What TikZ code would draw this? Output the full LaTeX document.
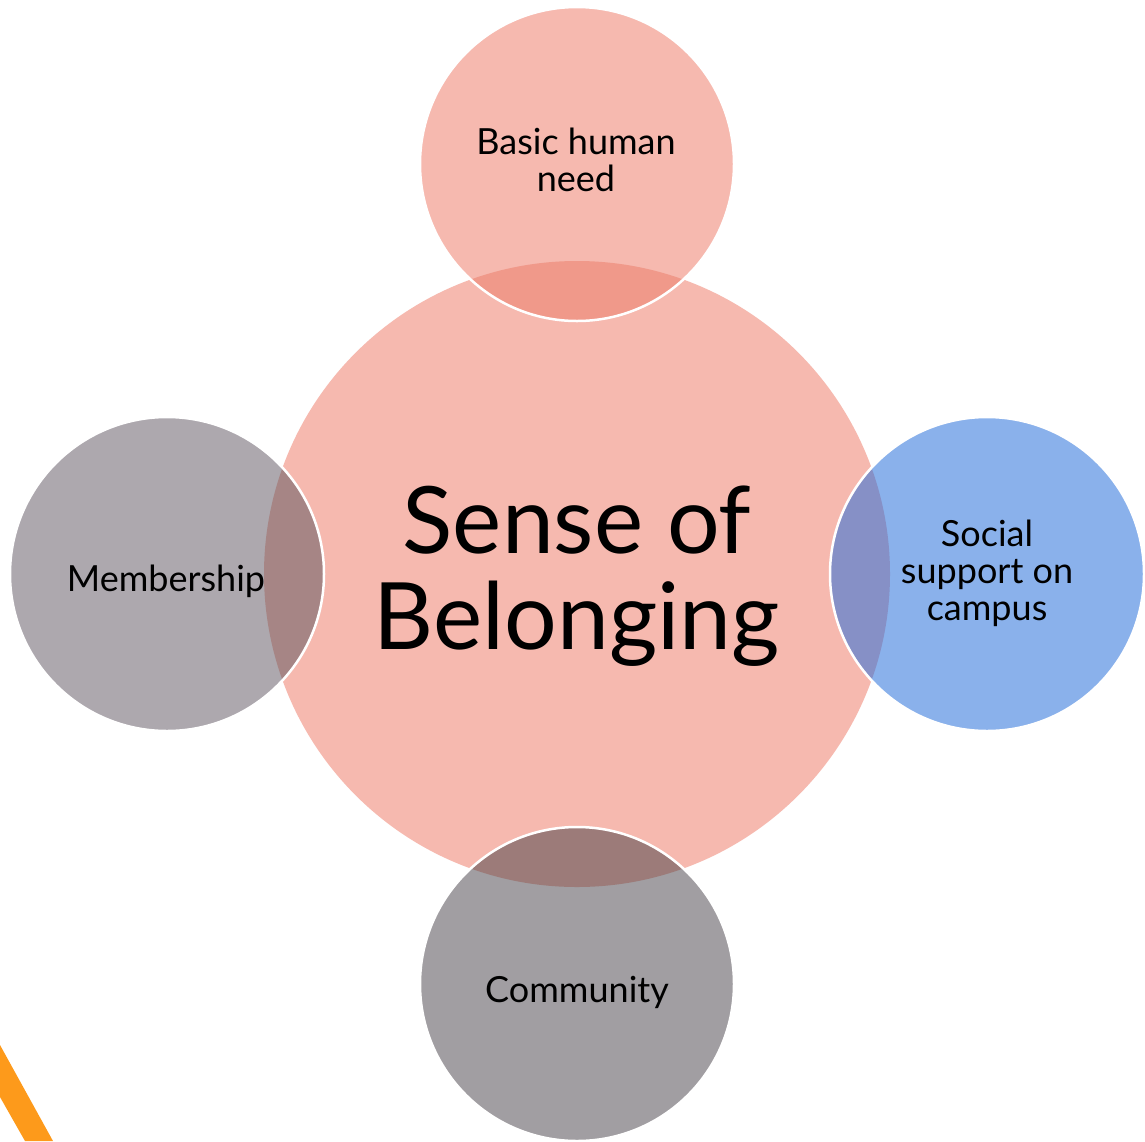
\documentclass[tikz,border=0pt]{standalone}
\usepackage{fontspec}
\setmainfont{Lato}
\definecolor{pinkC}{HTML}{F6B9AF}
\definecolor{topOv}{HTML}{F0998A}
\definecolor{leftC}{HTML}{ADA8AE}
\definecolor{leftOv}{HTML}{A68585}
\definecolor{rightC}{HTML}{8AB1EB}
\definecolor{rightOv}{HTML}{8690C6}
\definecolor{botC}{HTML}{A19EA2}
\definecolor{botOv}{HTML}{9C7B79}
\definecolor{orangeC}{HTML}{FD9A1B}
\tikzset{
  lbl/.style={inner sep=0pt, align=center, font=\fontsize{36}{37}\selectfont, text=black},
  biglbl/.style={inner sep=0pt, align=center, font=\fontsize{93}{96}\selectfont, text=black},
  rim/.style={draw=white, line width=2.5pt}
}
\begin{document}
\begin{tikzpicture}[x=1pt,y=-1pt]
\useasboundingbox (0,0) rectangle (1145,1141);
\fill[white] (0,0) rectangle (1145,1141);
% orange stripe
\fill[orangeC] (0,1045) -- (53,1141) -- (25,1141) -- (0,1097) -- cycle;
% coordinates
\coordinate (cc) at (577,574);
\coordinate (ct) at (577,164);
\coordinate (cb) at (577,984);
\coordinate (cl) at (167,574);
\coordinate (cr) at (987,574);
% central
\fill[pinkC] (cc) circle[radius=313pt];
% satellites
\fill[pinkC] (ct) circle[radius=157pt];
\fill[leftC] (cl) circle[radius=157pt];
\fill[rightC] (cr) circle[radius=157pt];
\fill[botC] (cb) circle[radius=157pt];
% overlaps
\begin{scope}
  \clip (ct) circle[radius=157pt];
  \fill[topOv] (cc) circle[radius=313pt];
\end{scope}
\begin{scope}
  \clip (cl) circle[radius=157pt];
  \fill[leftOv] (cc) circle[radius=313pt];
\end{scope}
\begin{scope}
  \clip (cr) circle[radius=157pt];
  \fill[rightOv] (cc) circle[radius=313pt];
\end{scope}
\begin{scope}
  \clip (cb) circle[radius=157pt];
  \fill[botOv] (cc) circle[radius=313pt];
\end{scope}
% white rims
\draw[rim] (ct) circle[radius=157pt];
\draw[rim] (cl) circle[radius=157pt];
\draw[rim] (cr) circle[radius=157pt];
\draw[rim] (cb) circle[radius=157pt];
% labels
\node[biglbl] (sob) at (577,576) {Sense of\\Belonging};
\node[lbl] (basic) at (576,160) {Basic human\\need};
\node[lbl, anchor=base] (memb) at (166,591) {Membership};
\node[lbl] (social) at (987,573) {Social\\support on\\campus};
\node[lbl, anchor=base] (comm) at (577,1002) {Community};
\end{tikzpicture}
\end{document}
